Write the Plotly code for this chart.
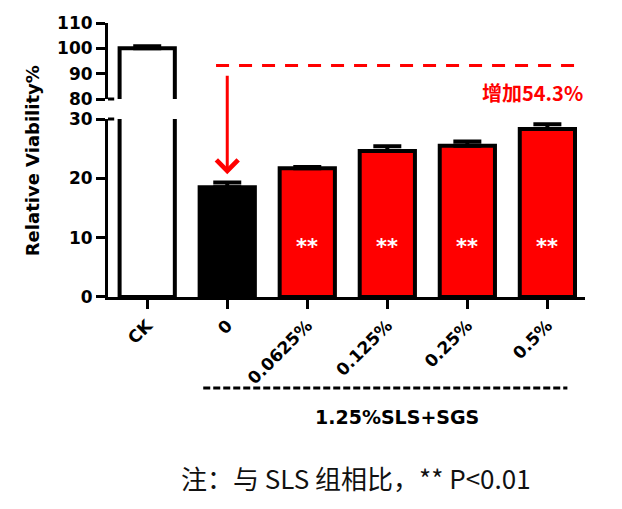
import plotly.graph_objects as go

categories = ["CK", "0", "0.0625%", "0.125%", "0.25%", "0.5%"]
viability = [100.0, 18.5, 21.7, 24.6, 25.5, 28.3]
errors = [0.8, 0.8, 0.2, 0.8, 0.7, 0.8]
fill_colors = ["#FFFFFF", "#000000", "#FF0000", "#FF0000", "#FF0000", "#FF0000"]
sig_labels = ["", "", "**", "**", "**", "**"]
ref_level = 93.2          # dashed reference line (upper axis)
gain_text = "增加54.3%"
group_label = "1.25%SLS+SGS"
footnote = "注：与 SLS 组相比，** P<0.01"
y_title = "Relative Viability%"
lower_ticks = [0, 10, 20, 30]
upper_ticks = [80, 90, 100, 110]

xs = list(range(len(categories)))
FONT = "DejaVu Sans, Arial, sans-serif"
CJK = "Noto Sans CJK SC, sans-serif"

fig = go.Figure()

# lower panel (0-30)
fig.add_trace(go.Bar(
    x=xs, y=viability, width=0.69,
    marker=dict(color=fill_colors, line=dict(color="black", width=4)),
    error_y=dict(type="data", array=errors, arrayminus=[0]*len(errors), symmetric=False,
                 color="black", thickness=4, width=14),
    xaxis="x", yaxis="y", showlegend=False, hoverinfo="skip",
))
# upper panel (80-110): only CK reaches it
fig.add_trace(go.Bar(
    x=[xs[0]], y=[viability[0]], width=0.69,
    marker=dict(color=fill_colors[0], line=dict(color="black", width=4)),
    error_y=dict(type="data", array=[errors[0]], arrayminus=[0], symmetric=False,
                 color="black", thickness=4, width=14),
    xaxis="x", yaxis="y2", showlegend=False, hoverinfo="skip",
))

axis_common = dict(showline=True, linecolor="black", linewidth=3, ticks="outside",
                   ticklen=9, tickwidth=3, tickcolor="black", showgrid=False, zeroline=False,
                   tickfont=dict(family=FONT, size=17, color="black", weight="bold"))

fig.update_layout(
    width=622, height=509,
    margin=dict(l=108, r=37, t=23, b=212),
    paper_bgcolor="white", plot_bgcolor="white",
    bargap=0.3,
    xaxis=dict(range=[-0.49, 5.47], tickvals=xs, ticktext=categories, tickangle=-45,
               anchor="y", **axis_common),
    yaxis=dict(domain=[0, 0.6496], range=[0, 30], tickvals=lower_ticks, anchor="x",
               **axis_common),
    yaxis2=dict(domain=[0.7226, 1], range=[80, 110], tickvals=upper_ticks, anchor="x",
                **axis_common),
)

# small stubs at the axis break
for yb in (0.6496, 0.7226):
    fig.add_shape(type="line", xref="paper", yref="paper", x0=0, x1=0.013, y0=yb, y1=yb,
                  line=dict(color="black", width=3))

# dashed reference line
fig.add_shape(type="line", xref="x", yref="y2", x0=0.86, x1=5.41, y0=ref_level, y1=ref_level,
              line=dict(color="#FF0000", width=3, dash="13px,10px"))
# arrow to the "0" bar
fig.add_annotation(x=xs[1], y=viability[1] + errors[1] + 1.4, xref="x", yref="y",
                   ax=0, ay=-100, axref="pixel", ayref="pixel", showarrow=True,
                   arrowhead=4, arrowsize=1.4, arrowwidth=3, arrowcolor="#FF0000", text="")
fig.add_annotation(x=1, xref="paper", xanchor="right", y=82.4, yref="y2", yanchor="middle",
                   showarrow=False, text=gain_text,
                   font=dict(family=CJK, size=20, color="#FF0000", weight="bold"))

# significance marks
for xi, lab in zip(xs, sig_labels):
    if lab:
        fig.add_annotation(x=xi, y=8.4, xref="x", yref="y", showarrow=False, text=lab,
                           xanchor="center", yanchor="middle",
                           font=dict(family=FONT, size=21, color="white", weight="bold"))

# group bracket and label
fig.add_shape(type="line", xref="x", yref="paper", x0=0.70, x1=5.25, y0=-0.332, y1=-0.332,
              line=dict(color="black", width=3, dash="7px,3px"))
fig.add_annotation(x=3.12, xref="x", y=-0.438, yref="paper", showarrow=False, text=group_label,
                   xanchor="center", yanchor="middle",
                   font=dict(family=FONT, size=19, color="black", weight="bold"))

# y title
fig.add_annotation(x=-0.159, xref="paper", y=0.496, yref="paper", showarrow=False, text=y_title,
                   xanchor="center", yanchor="middle", textangle=-90,
                   font=dict(family=FONT, size=18, color="black", weight="bold"))

# footnote
fig.add_annotation(x=0.52, xref="paper", y=-0.66, yref="paper", showarrow=False, text=footnote,
                   xanchor="center", yanchor="middle",
                   font=dict(family=CJK, size=26, color="#111111"))

fig.write_html("out.html")
